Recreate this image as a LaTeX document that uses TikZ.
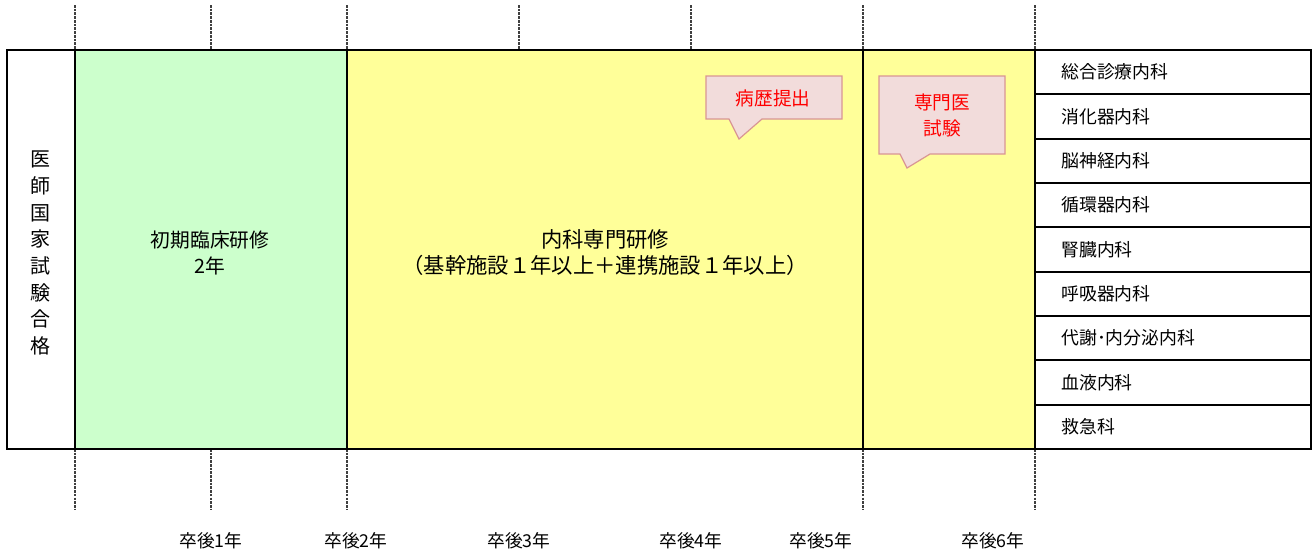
\documentclass[tikz,border=0pt]{standalone}
\usepackage{fontspec}
\setmainfont{Noto Sans CJK JP}
\definecolor{grn}{HTML}{CCFFCC}
\definecolor{ylw}{HTML}{FFFF99}
\definecolor{cfill}{HTML}{F2DCDB}
\definecolor{cedge}{HTML}{D99694}
\definecolor{cred}{HTML}{FF0000}
\tikzset{
  frame/.style={line width=1.5pt, draw=black},
  tick/.style={line width=0.9pt, draw=black!75, dash pattern=on 2pt off 0.8pt},
  midtext/.style={align=center, inner sep=0pt},
  listtext/.style={font=\fontsize{13.4}{16}\selectfont, anchor=west, inner sep=0pt},
  yeartext/.style={font=\fontsize{13.3}{16}\selectfont, inner sep=0pt},
  vtext/.style={font=\fontsize{15}{20}\selectfont, align=center, inner sep=0pt},
  callout/.style={fill=cfill, draw=cedge, line width=0.9pt, line join=miter},
  calltext/.style={font=\fontsize{14}{19.5}\selectfont, text=cred, align=center, inner sep=0pt},
}
\begin{document}
\begin{tikzpicture}[x=0.75pt,y=-0.75pt]
\useasboundingbox (0,0) rectangle (1313,551);
% fills
\fill[grn] (75,50) rectangle (347,449);
\fill[ylw] (347,50) rectangle (1035,449);
% dashed ticks top
\foreach \x/\n in {75/a,211/b,347/c,519/d,691/e,863/f,1035/g}{
  \coordinate (tt\n) at (\x,5);
  \coordinate (tb\n) at (\x,50);
  \draw[tick] (tt\n) -- (tb\n);
}
% dashed ticks bottom
\foreach \x/\n in {75/a,211/b,347/c,863/f,1035/g}{
  \coordinate (bt\n) at (\x,449);
  \coordinate (bb\n) at (\x,510);
  \draw[tick] (bt\n) -- (bb\n);
}
% frame
\draw[frame] (7,50) rectangle (1311,449);
\foreach \x in {75,347,863,1035}{
  \draw[frame] (\x,50) -- (\x,449);
}
% list rows
\foreach \i [evaluate=\i as \yy using {50+\i*44.333}] in {1,...,8}{
  \draw[frame] (1035,\yy) -- (1311,\yy);
}
\foreach \t [count=\i, evaluate=\i as \yy using {50+(\i-0.5)*44.333}] in {総合診療内科,消化器内科,脳神経内科,循環器内科,腎臓内科,呼吸器内科,代謝･内分泌内科,血液内科,救急科}{
  \node[listtext] (li\i) at (1061,\yy) {\t};
}
% vertical text
\node[vtext] (pass) at (41,253) {医\\師\\国\\家\\試\\験\\合\\格};
% middle texts
\node[midtext, font=\fontsize{14.8}{19.5}\selectfont] (shoki) at (210,253) {初期臨床研修\\2年};
\node[midtext, font=\fontsize{16}{19.5}\selectfont] (naika) at (605,253) {内科専門研修\\（基幹施設１年以上＋連携施設１年以上）};
% callouts
\draw[callout] (706,76) -- (842,76) -- (842,119) -- (762,119) -- (739,139) -- (729,119) -- (706,119) -- cycle;
\node[calltext] (byoreki) at (773,98) {病歴提出};
\draw[callout] (879,76) -- (1005,76) -- (1005,154) -- (930,154) -- (907,168) -- (900,154) -- (879,154) -- cycle;
\node[calltext] (senmon) at (942,115) {専門医\\試験};
% year labels
\node[yeartext] (y1) at (211,541) {卒後1年};
\node[yeartext] (y2) at (356,541) {卒後2年};
\node[yeartext] (y3) at (519,541) {卒後3年};
\node[yeartext] (y4) at (691,541) {卒後4年};
\node[yeartext] (y5) at (821,541) {卒後5年};
\node[yeartext] (y6) at (993,541) {卒後6年};
\end{tikzpicture}
\end{document}
